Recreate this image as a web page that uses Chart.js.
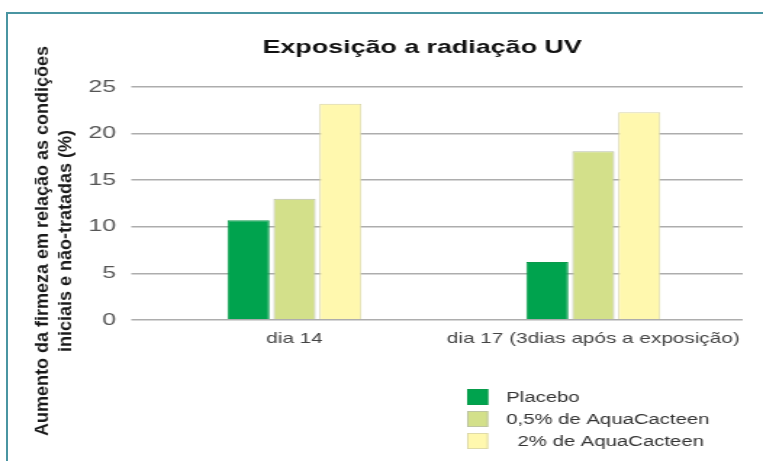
<!DOCTYPE html>
<html>
<head>
<meta charset="utf-8">
<script src="https://cdn.jsdelivr.net/npm/chart.js@4.4.1/dist/chart.umd.min.js"></script>
<style>
html, body { margin: 0; padding: 0; background: #fff; }
#page { position: relative; width: 763px; height: 461px; overflow: hidden; }
#frame { position: absolute; left: 6px; top: 12px; width: 800px; height: 500px;
         border-top: 2px solid #4a95a2; border-left: 2px solid #4a95a2; }
/* the reference is stretched sideways, so the chart is drawn narrow and scaled */
#wrap { position: absolute; left: 0; top: 0; width: 526px; height: 461px;
        transform: scaleX(1.4506); transform-origin: 0 0; }
</style>
</head>
<body>
<div id="page">
  <div id="frame"></div>
  <div id="wrap"><canvas id="uvChart"></canvas></div>
</div>
<script>
const categories = ['dia 14', 'dia 17 (3dias após a exposição)'];
const placebo = [10.7, 6.2];
const aqua05 = [13.0, 18.1];
const aqua2 = [23.2, 22.3];
const seriesNames = ['Placebo', '0,5% de AquaCacteen', '  2% de AquaCacteen'];
const yTicks = [0, 5, 10, 15, 20, 25];
const chartTitle = 'Exposição a radiação UV';
const yTitle = ['Aumento da firmeza em relação as condições', 'iniciais e não-tratadas (%)'];

const FONT = '"Liberation Sans", Arial, sans-serif';
const STRETCH = 1.4506;

// title, rotated axis title and the legend box sit where the chart's own boxes can't put them
const extraText = {
    id: 'extraText',
    afterDraw(chart) {
        const ctx = chart.ctx;
        ctx.save();
        ctx.fillStyle = '#111';
        ctx.font = 'bold 18.5px ' + FONT;
        ctx.textAlign = 'center';
        ctx.textBaseline = 'alphabetic';
        ctx.fillText(chartTitle, 291, 53);

        // axis title is not stretched in the reference, undo the css scale here
        ctx.save();
        ctx.scale(1 / STRETCH, 1);
        ctx.translate(43, 241);
        ctx.rotate(-Math.PI / 2);
        ctx.font = 'bold 18px ' + FONT;
        ctx.textBaseline = 'middle';
        ctx.fillStyle = '#1a1a1a';
        ctx.fillText(yTitle[0], 0, 0);
        ctx.fillText(yTitle[1], 0, 23);
        ctx.restore();

        ctx.font = '14px ' + FONT;
        ctx.textAlign = 'left';
        ctx.textBaseline = 'middle';
        chart.data.datasets.forEach((ds, i) => {
            const top = 389 + i * 22;
            ctx.fillStyle = ds.backgroundColor;
            ctx.fillRect(322, top, 14.5, 16);
            ctx.strokeStyle = ds.borderColor;
            ctx.lineWidth = 0.8;
            ctx.strokeRect(322.4, top + 0.4, 13.7, 15.2);
            ctx.fillStyle = '#333';
            ctx.fillText(ds.label, 349, top + 9.5);
        });
        ctx.restore();
    }
};

const ctx = document.getElementById('uvChart').getContext('2d');
new Chart(ctx, {
    type: 'bar',
    data: {
        labels: categories,
        datasets: [{
            label: seriesNames[0],
            data: placebo,
            backgroundColor: '#00a34e',
            borderColor: '#0b9a4b',
            borderWidth: 1
        }, {
            label: seriesNames[1],
            data: aqua05,
            backgroundColor: '#d3e08a',
            borderColor: '#b9bfa6',
            borderWidth: 1
        }, {
            label: seriesNames[2],
            data: aqua2,
            backgroundColor: '#fff8ae',
            borderColor: '#d8d4a8',
            borderWidth: 1
        }]
    },
    options: {
        responsive: true,
        maintainAspectRatio: false,
        animation: false,
        categoryPercentage: 0.462,
        barPercentage: 0.915,
        layout: {
            padding: { top: 87, left: 0, right: 14, bottom: 102 }
        },
        scales: {
            x: {
                grid: { display: false, drawTicks: false },
                border: { display: false },
                ticks: {
                    color: '#444',
                    padding: 11,
                    maxRotation: 0,
                    minRotation: 0,
                    autoSkip: false,
                    font: { family: FONT, size: 14.3 }
                }
            },
            y: {
                min: 0,
                max: 25,
                afterFit: function(scale) { scale.width = 100; },
                afterBuildTicks: function(scale) {
                    scale.ticks = yTicks.map(v => ({ value: v }));
                },
                grid: {
                    color: '#adadad',
                    lineWidth: 1.5,
                    tickLength: 9.5,
                    tickColor: '#adadad'
                },
                border: { display: false },
                ticks: {
                    color: '#555',
                    padding: 10.5,
                    font: { family: FONT, size: 17 }
                }
            }
        },
        plugins: {
            legend: { display: false },
            title: { display: false },
            tooltip: { enabled: false }
        }
    },
    plugins: [extraText]
});
</script>
</body>
</html>
